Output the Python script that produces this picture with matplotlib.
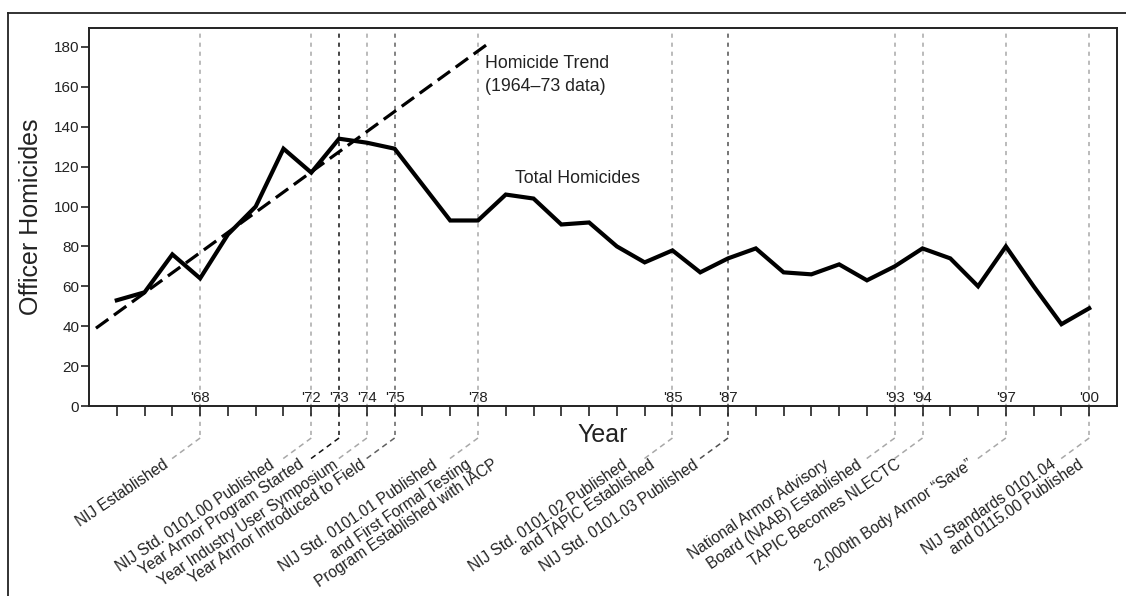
import matplotlib
matplotlib.use("Agg")
import matplotlib.pyplot as plt
from matplotlib.lines import Line2D

plt.rcParams['font.family'] = ['Liberation Sans', 'DejaVu Sans']
plt.rcParams['lines.scale_dashes'] = False

# ---------------- data ----------------
years = list(range(1965, 2001))
homicides = [53, 57, 76, 64, 86, 100, 129, 117, 134, 132, 129, 111, 93, 93,
             106, 104, 91, 92, 80, 72, 78, 67, 74, 79, 67, 66, 71, 63, 70,
             79, 74, 60, 80, 60, 41, 49]

trend_years = [1964.25, 1978.4]
trend_values = [39, 182]

event_years = [1968, 1972, 1973, 1974, 1975, 1978, 1985, 1987, 1993, 1994, 1997, 2000]
event_ticklabels = ["'68", "'72", "'73", "'74", "'75", "'78", "'85", "'87",
                    "'93", "'94", "'97", "'00"]
event_labels = [
    ["NIJ Established"],
    ["NIJ Std. 0101.00 Published"],
    ["Year Armor Program Started"],
    ["Year Industry User Symposium"],
    ["Year Armor Introduced to Field"],
    ["NIJ Std. 0101.01 Published", "and First Formal Testing",
     "Program Established with IACP"],
    ["NIJ Std. 0101.02 Published", "and TAPIC Established"],
    ["NIJ Std. 0101.03 Published"],
    ["National Armor Advisory", "Board (NAAB) Established"],
    ["TAPIC Becomes NLECTC"],
    ["2,000th Body Armor \u201cSave\u201d"],
    ["NIJ Standards 0101.04", "and 0115.00 Published"],
]
yticks = [0, 20, 40, 60, 80, 100, 120, 140, 160, 180]

# ---------------- layout / style ----------------
W, H = 1126, 596
event_colors = ['#a8a8a8', '#a8a8a8', '#111111', '#a8a8a8', '#606060', '#a8a8a8',
                '#a8a8a8', '#505050', '#a8a8a8', '#a8a8a8', '#a8a8a8', '#a8a8a8']
# right-end x offset (px, relative to event x) of each label line
label_dx = [[-31], [-36], [-34], [-28], [-28], [-40, -6, 21], [-44, -17], [-29],
            [-65, -32], [-21], [-32], [-32, -5]]
label_y = 467  # baseline of label lines, px from top
rot = 34

fig = plt.figure(figsize=(W / 100, H / 100), dpi=100)
ax_l, ax_t, ax_r, ax_b = 89, 28, 1117, 406
ax = fig.add_axes([ax_l / W, 1 - ax_b / H, (ax_r - ax_l) / W, (ax_b - ax_t) / H])

ax.set_xlim(1964, 2001)
ax.set_ylim(0, 189.5)

# event vertical lines (inside + below axes)
for yr, c in zip(event_years, event_colors):
    ax.axvline(yr, ymin=-29 / 378, ymax=0.995, color=c, lw=1.1,
               dashes=(3, 3.5), clip_on=False, zorder=1)

# trend line
ax.plot(trend_years, trend_values, color='black', lw=2.3, dashes=(11, 5),
        solid_capstyle='butt', zorder=3)
# total homicides
ax.plot(years, homicides, color='black', lw=3.0, solid_joinstyle='miter',
        zorder=4)

ax.text(1978.26, 176, "Homicide Trend\n(1964\u201373 data)", fontsize=12.8,
        color='#222222', ha='left', va='top', linespacing=1.45)
ax.text(1979.34, 112, "Total Homicides", fontsize=12.8, color='#222222',
        ha='left', va='baseline')

# axes styling
ax.set_xticks(years)
ax.set_xticklabels([])
ax.set_yticks(yticks)
ax.tick_params(axis='x', length=7, width=1.2, color='#222222', direction='out')
ax.tick_params(axis='y', length=6, width=1.2, color='#222222', direction='out',
               labelsize=11, labelcolor='#222222', pad=1)
for s in ax.spines.values():
    s.set_linewidth(1.4)
    s.set_color('#222222')

ax.set_ylabel("Officer Homicides", fontsize=18, color='#222222', labelpad=8)
ax.set_xlabel("Year", fontsize=18, color='#222222', labelpad=1.5)

# event year labels inside plot
for yr, t in zip(event_years, event_ticklabels):
    ax.annotate(t, xy=(yr, 0), xytext=(0, 3), textcoords='offset points',
                ha='center', va='baseline', fontsize=10.8, color='#222222')

# connectors and event labels below axis
fig.canvas.draw()
trans = fig.transFigure
for yr, c, lines, dxs in zip(event_years, event_colors, event_labels, label_dx):
    xp = ax.transData.transform((yr, 0))[0]
    x0, y0 = xp, 438
    x1, y1 = xp - 30, 460
    fig.add_artist(Line2D([x0 / W, x1 / W], [1 - y0 / H, 1 - y1 / H],
                          transform=trans, color=c, lw=1.1, dashes=(4, 3)))
    for line, dx in zip(lines, dxs):
        fig.text((xp + dx) / W, 1 - label_y / H, line, rotation=rot,
                 rotation_mode='anchor', ha='right', va='baseline',
                 fontsize=11.2, color='#222222')

# outer frame
fig.add_artist(Line2D([8 / W, 1], [1 - 13 / H, 1 - 13 / H], transform=trans,
                      color='#222222', lw=1.3))
fig.add_artist(Line2D([8 / W, 8 / W], [1 - 13 / H, 0], transform=trans,
                      color='#222222', lw=1.3))

fig.savefig("out.png", dpi=100)
